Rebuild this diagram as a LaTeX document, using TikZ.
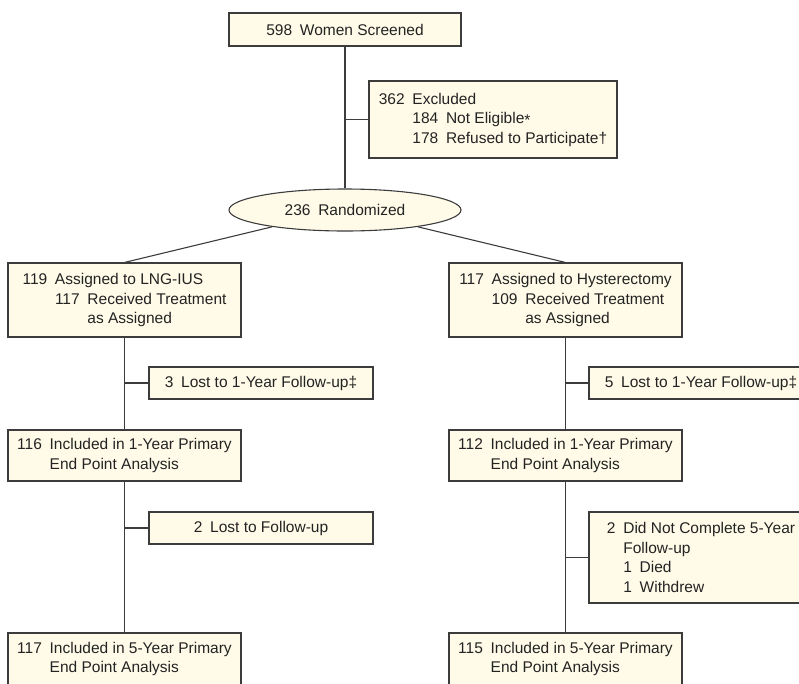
\documentclass[tikz,border=0pt]{standalone}
\usepackage{fontspec}
\setmainfont{Liberation Sans}
\usetikzlibrary{shapes.geometric}
\definecolor{fillc}{RGB}{255,251,232}
\definecolor{linec}{RGB}{60,60,60}
\definecolor{textc}{RGB}{35,35,35}
\newcommand{\gp}{\hspace{0.5em}}
\newcommand{\astk}{\raisebox{-0.3ex}{*}}
\begin{document}
\begin{tikzpicture}[x=1pt,y=-1pt,
  box/.style={draw=linec, fill=fillc, line width=1.1pt, inner sep=0pt, align=left, text=textc, font=\fontsize{15.5}{19.5}\selectfont},
  widebox/.style={box, minimum width=233pt},
  lostbox/.style={box, minimum width=224pt},
  conn/.style={draw=linec, line width=1.1pt}]
\useasboundingbox (0,0) rectangle (799,683);
\clip (0,0) rectangle (799,683);
% top
\node[box, minimum width=232pt, minimum height=33pt] (screen) at (345,29.5) {598\gp Women Screened};
\node[box, minimum width=248pt, minimum height=77pt] (excl) at (493,119.5)
  {362\gp Excluded\\\phantom{362\gp}184\gp Not Eligible\astk\\\phantom{362\gp}178\gp Refused to Participate†};
\node[box, ellipse, minimum width=232pt, minimum height=42pt] (rand) at (345,210) {236\gp Randomized};
% left column
\node[widebox, minimum height=74pt] (l1) at (124.5,300)
  {119\gp Assigned to LNG-IUS\\\phantom{119\gp}117\gp Received Treatment\\\phantom{119\gp 117\gp}as Assigned};
\node[lostbox, minimum height=32pt] (ll1) at (261,383) {3\gp Lost to 1-Year Follow-up‡};
\node[widebox, minimum height=51pt] (l2) at (124.5,455.5)
  {116\gp Included in 1-Year Primary\\\phantom{116\gp}End Point Analysis};
\node[lostbox, minimum height=32pt] (ll2) at (261,528) {2\gp Lost to Follow-up};
\node[widebox, minimum height=52pt] (l3) at (124.5,659)
  {117\gp Included in 5-Year Primary\\\phantom{117\gp}End Point Analysis};
% right column
\node[widebox, minimum height=74pt] (r1) at (565.5,300)
  {117\gp Assigned to Hysterectomy\\\phantom{117\gp}109\gp Received Treatment\\\phantom{117\gp 109\gp}as Assigned};
\node[lostbox, minimum height=32pt] (rl1) at (701,383) {5\gp Lost to 1-Year Follow-up‡};
\node[widebox, minimum height=51pt] (r2) at (565.5,455.5)
  {112\gp Included in 1-Year Primary\\\phantom{112\gp}End Point Analysis};
\node[lostbox, minimum height=91pt] (rl2) at (701,557.5)
  {2\gp Did Not Complete 5-Year\\\phantom{2\gp}Follow-up\\\phantom{2\gp}1\gp Died\\\phantom{2\gp}1\gp Withdrew};
\node[widebox, minimum height=52pt] (r3) at (565.5,659)
  {115\gp Included in 5-Year Primary\\\phantom{115\gp}End Point Analysis};
% connectors
\draw[conn] (screen.south) -- (rand.north);
\draw[conn] (excl.west) -- (excl.west -| screen.south);
\draw[conn] (rand.193) -- (l1.north);
\draw[conn] (rand.347) -- (r1.north);
\draw[conn] (l1.south) -- (l2.north);
\draw[conn] (l2.south) -- (l3.north);
\draw[conn] (r1.south) -- (r2.north);
\draw[conn] (r2.south) -- (r3.north);
\draw[conn] (ll1.west) -- (ll1.west -| l1.south);
\draw[conn] (ll2.west) -- (ll2.west -| l2.south);
\draw[conn] (rl1.west) -- (rl1.west -| r1.south);
\draw[conn] (rl2.west) -- (rl2.west -| r2.south);
\end{tikzpicture}
\end{document}
